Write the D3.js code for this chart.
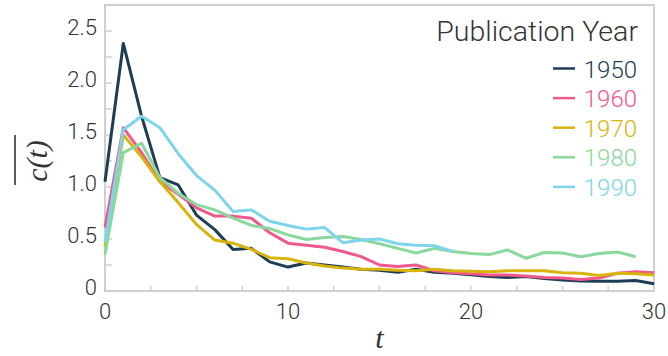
<!DOCTYPE html>
<html>
<head>
<meta charset="utf-8">
<script src="https://cdn.jsdelivr.net/npm/d3@7"></script>
<style>
  html, body { margin: 0; padding: 0; background: #fff; }
  svg { display: block; }
  .tick-label { font-family: Roboto, "Liberation Sans", sans-serif; font-weight: 300; font-size: 22px; fill: #333; }
  .legend-text { font-family: Roboto, "Liberation Sans", sans-serif; font-weight: 300; font-size: 24px; }
  .legend-title { font-family: Roboto, "Liberation Sans", sans-serif; font-weight: 300; font-size: 28.5px; fill: #333; }
  .math { font-family: "Liberation Serif", "DejaVu Serif", serif; font-style: italic; font-size: 30px; fill: #333; }
</style>
</head>
<body>
<svg id="chart" width="668" height="356"></svg>
<script>
// Mean citations per paper, t years after publication, by publication decade
const years = [1950, 1960, 1970, 1980, 1990];
const colors = ["#1c3d55", "#f0588e", "#d8b40c", "#8ad89c", "#7ed5eb"];

const c1950 = [1.05, 2.38, 1.68, 1.09, 1.02, 0.73, 0.59, 0.40, 0.41, 0.28, 0.23, 0.27, 0.25, 0.23, 0.21, 0.20, 0.18, 0.21, 0.18, 0.17, 0.155, 0.14, 0.13, 0.14, 0.12, 0.106, 0.097, 0.094, 0.094, 0.10, 0.07];
const c1960 = [0.61, 1.57, 1.33, 1.05, 0.93, 0.80, 0.72, 0.72, 0.70, 0.56, 0.46, 0.44, 0.42, 0.38, 0.33, 0.25, 0.235, 0.25, 0.195, 0.175, 0.165, 0.155, 0.155, 0.145, 0.13, 0.125, 0.11, 0.125, 0.17, 0.185, 0.175];
const c1970 = [0.42, 1.50, 1.29, 1.05, 0.85, 0.64, 0.49, 0.46, 0.40, 0.32, 0.31, 0.27, 0.24, 0.22, 0.21, 0.21, 0.20, 0.195, 0.21, 0.195, 0.19, 0.185, 0.195, 0.195, 0.195, 0.175, 0.17, 0.15, 0.17, 0.165, 0.155];
const c1980 = [0.35, 1.33, 1.42, 1.09, 0.94, 0.83, 0.78, 0.70, 0.63, 0.60, 0.54, 0.495, 0.515, 0.525, 0.495, 0.455, 0.41, 0.365, 0.41, 0.38, 0.36, 0.35, 0.395, 0.315, 0.37, 0.365, 0.33, 0.36, 0.375, 0.33];
const c1990 = [0.47, 1.55, 1.68, 1.57, 1.32, 1.11, 0.97, 0.765, 0.78, 0.67, 0.63, 0.595, 0.61, 0.465, 0.49, 0.50, 0.455, 0.44, 0.435, 0.38];
const seriesValues = [c1950, c1960, c1970, c1980, c1990];

const xMajorTicks = [0, 10, 20, 30];
const yMajorTicks = [0, 0.5, 1.0, 1.5, 2.0, 2.5];
const yTickLabels = ["0", "0.5", "1.0", "1.5", "2.0", "2.5"];

const svg = d3.select("#chart");
const margin = { left: 105, right: 14, top: 5, bottom: 65 };
const W = 668, H = 356;

const x = d3.scaleLinear().domain([0, 30]).range([margin.left, W - margin.right]);
const y = d3.scaleLinear().domain([0, 2.75]).range([H - margin.bottom, margin.top]);

const axisGrey = "#cfcfcf";

// frame around the plotting area
svg.append("rect")
  .attr("x", x(0)).attr("y", y(2.75))
  .attr("width", x(30) - x(0)).attr("height", y(0) - y(2.75))
  .attr("fill", "none").attr("stroke", axisGrey).attr("stroke-width", 2);

// inward tick marks
const xMinor = d3.range(0, 30.01, 2.5);
svg.append("g").selectAll("line").data(xMinor).join("line")
  .attr("x1", d => x(d)).attr("x2", d => x(d))
  .attr("y1", y(0)).attr("y2", y(0) - 5)
  .attr("stroke", axisGrey).attr("stroke-width", 1.5);

const yMinor = d3.range(0, 2.751, 0.25);
svg.append("g").selectAll("line").data(yMinor).join("line")
  .attr("x1", x(0)).attr("x2", x(0) + 7)
  .attr("y1", d => y(d)).attr("y2", d => y(d))
  .attr("stroke", axisGrey).attr("stroke-width", 1.5);

// tick labels
svg.append("g").selectAll("text").data(xMajorTicks).join("text")
  .attr("class", "tick-label")
  .attr("x", d => x(d)).attr("y", y(0) + 28)
  .attr("text-anchor", "middle")
  .text(d => d);

svg.append("g").selectAll("text").data(yMajorTicks).join("text")
  .attr("class", "tick-label")
  .attr("x", x(0) - 8).attr("y", d => y(d) + 4)
  .attr("text-anchor", "end")
  .text((d, i) => yTickLabels[i]);

// axis titles
svg.append("text").attr("class", "math")
  .attr("x", x(15)).attr("y", 348)
  .attr("text-anchor", "middle")
  .text("t");

const yTitle = svg.append("g").attr("transform", "translate(47,161) rotate(-90)");
yTitle.append("text").attr("class", "math")
  .attr("x", 0).attr("y", 0)
  .attr("text-anchor", "middle")
  .text("c(t)");
yTitle.append("line")
  .attr("x1", -24).attr("x2", 26)
  .attr("y1", -32).attr("y2", -32)
  .attr("stroke", "#333").attr("stroke-width", 1.6);

// series lines
const line = d3.line().x((d, i) => x(i)).y(d => y(d));
svg.append("g").selectAll("path").data(seriesValues).join("path")
  .attr("d", d => line(d))
  .attr("fill", "none")
  .attr("stroke", (d, i) => colors[i])
  .attr("stroke-width", 3)
  .attr("stroke-linejoin", "round");

// legend
const legend = svg.append("g");
legend.append("text").attr("class", "legend-title")
  .attr("x", 638).attr("y", 41)
  .attr("text-anchor", "end")
  .text("Publication Year");
const rows = legend.selectAll("g.row").data(years).join("g")
  .attr("class", "row")
  .attr("transform", (d, i) => `translate(0,${68.5 + i * 29.6})`);
rows.append("line")
  .attr("x1", 553).attr("x2", 575).attr("y1", 0).attr("y2", 0)
  .attr("stroke", (d, i) => colors[i]).attr("stroke-width", 2.5);
rows.append("text").attr("class", "legend-text")
  .attr("x", 637).attr("y", 9)
  .attr("text-anchor", "end")
  .attr("fill", (d, i) => colors[i])
  .text(d => d);
</script>
</body>
</html>
